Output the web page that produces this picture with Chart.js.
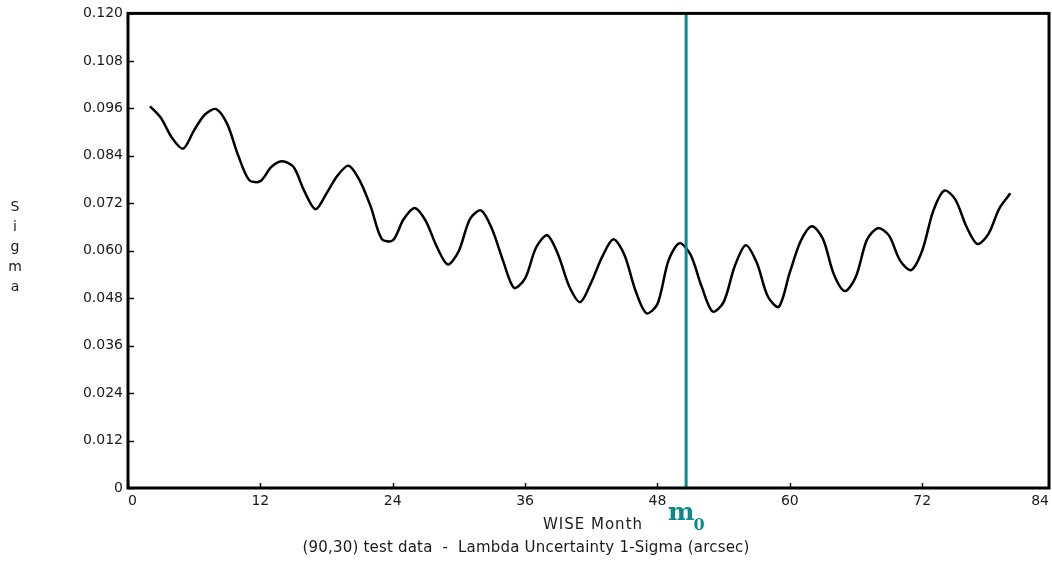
<!DOCTYPE html>
<html>
<head>
<meta charset="utf-8">
<script src="https://cdn.jsdelivr.net/npm/chart.js@4.4.1/dist/chart.umd.min.js"></script>
<style>
  html, body { margin: 0; padding: 0; background: #fff; overflow: hidden; }
  canvas { display: block; }
</style>
</head>
<body>
<canvas id="sigmaChart" width="1052" height="569"></canvas>
<script>
// WISE month vs lambda 1-sigma
const months = [2, 3, 4, 5, 6, 7, 8, 9, 10, 11, 12, 13, 14, 15, 16, 17, 18, 19, 20,
  21, 22, 23, 24, 25, 26, 27, 28, 29, 30, 31, 32, 33, 34, 35, 36, 37, 38, 39, 40,
  41, 42, 43, 44, 45, 46, 47, 48, 49, 50, 51, 52, 53, 54, 55, 56, 57, 58, 59, 60,
  61, 62, 63, 64, 65, 66, 67, 68, 69, 70, 71, 72, 73, 74, 75, 76, 77, 78, 79, 80];
const sigma = [0.0965, 0.0935, 0.0885, 0.0858, 0.0905, 0.0945, 0.0958, 0.0920, 0.0840,
  0.0778, 0.0776, 0.0812, 0.0826, 0.0812, 0.0750, 0.0705, 0.0745, 0.0790, 0.0815,
  0.0778, 0.0712, 0.0630, 0.0626, 0.0680, 0.0708, 0.0675, 0.0610, 0.0565, 0.0600,
  0.0680, 0.0702, 0.0655, 0.0575, 0.0506, 0.0530, 0.0608, 0.0639, 0.0590, 0.0510,
  0.0470, 0.0520, 0.0585, 0.0629, 0.0590, 0.0500, 0.0442, 0.0465, 0.0575, 0.0619,
  0.0590, 0.0510, 0.0446, 0.0470, 0.0560, 0.0614, 0.0570, 0.0485, 0.0458, 0.0545,
  0.0625, 0.0662, 0.0630, 0.0540, 0.0498, 0.0535, 0.0628, 0.0657, 0.0638, 0.0575,
  0.0551, 0.0600, 0.0700, 0.0752, 0.0730, 0.0662, 0.0617, 0.0642, 0.0707, 0.0745];

const xTicks = [0, 12, 24, 36, 48, 60, 72, 84];
const yTicks = [0, 0.012, 0.024, 0.036, 0.048, 0.060, 0.072, 0.084, 0.096, 0.108, 0.120];
const xMax = 83.5;   // plot edge sits a little short of 84
const m0 = 50.6;     // reference month marker

const TEAL = '#0a8a8a';
const FONT = 'DejaVu Sans';

const frame = {
  id: 'frame',
  afterDraw(chart) {
    const c = chart.ctx;
    const a = chart.chartArea;
    const xs = chart.scales.x, ys = chart.scales.y;
    c.save();
    // tick marks pointing inward
    c.strokeStyle = '#000';
    c.lineWidth = 1.5;
    c.beginPath();
    yTicks.forEach(v => {
      const py = Math.round(ys.getPixelForValue(v)) + 0.5;
      c.moveTo(a.left, py); c.lineTo(a.left + 6, py);
    });
    xTicks.forEach(v => {
      if (v > xMax) return;
      const px = Math.round(xs.getPixelForValue(v)) + 0.5;
      c.moveTo(px, a.bottom); c.lineTo(px, a.bottom - 5);
    });
    c.stroke();
    // box
    c.lineWidth = 3;
    c.strokeRect(a.left, a.top, a.right - a.left, a.bottom - a.top);

    // axis titles
    c.fillStyle = '#1a1a1a';
    c.font = '14px "' + FONT + '"';
    c.textAlign = 'center';
    c.textBaseline = 'middle';
    'Sigma'.split('').forEach((ch, i) => c.fillText(ch, 15, 207 + i * 20));
    c.letterSpacing = '1px';
    c.font = '15px "' + FONT + '"';
    c.fillText('WISE Month', 593, 525);
    c.letterSpacing = '0.2px';
    c.fillText('(90,30) test data  -  Lambda Uncertainty 1-Sigma (arcsec)', 526, 548);
    c.letterSpacing = '0px';

    // m0 label
    const mx = xs.getPixelForValue(m0);
    c.fillStyle = TEAL;
    c.textAlign = 'left';
    c.textBaseline = 'alphabetic';
    c.font = 'bold 25px "DejaVu Serif"';
    c.fillText('m', mx - 18, 520);
    const mw = c.measureText('m').width;
    c.font = 'bold 16px "DejaVu Serif"';
    c.fillText('0', mx - 19 + mw, 530);
    c.restore();
  }
};

new Chart(document.getElementById('sigmaChart'), {
  type: 'line',
  plugins: [frame],
  data: {
    datasets: [{
      label: 'm0',
      data: [{ x: m0, y: yTicks[0] }, { x: m0, y: yTicks[yTicks.length - 1] }],
      borderColor: TEAL,
      borderWidth: 3,
      pointRadius: 0,
      tension: 0,
      order: 0
    }, {
      label: 'Sigma',
      data: months.map((m, i) => ({ x: m, y: sigma[i] })),
      borderColor: '#000',
      borderWidth: 2.5,
      pointRadius: 0,
      tension: 0.3,
      fill: false,
      order: 1
    }]
  },
  options: {
    responsive: false,
    animation: false,
    layout: { padding: { left: 0, top: 11, right: 3, bottom: 0 } },
    plugins: { legend: { display: false }, tooltip: { enabled: false } },
    scales: {
      x: {
        type: 'linear',
        min: 0,
        max: xMax,
        afterBuildTicks: s => { s.ticks = xTicks.map(v => ({ value: Math.min(v, xMax) })); },
        afterFit: s => { s.height = 81; s.paddingLeft = 0; s.paddingRight = 0; },
        grid: { display: false, drawTicks: false },
        border: { display: false },
        ticks: {
          align: 'inner',
          padding: 5,
          color: '#1a1a1a',
          font: { family: FONT, size: 14 },
          maxRotation: 0,
          autoSkip: false,
          callback: (v, i) => String(xTicks[i])
        }
      },
      y: {
        type: 'linear',
        min: 0,
        max: 0.12,
        afterBuildTicks: s => { s.ticks = yTicks.map(v => ({ value: v })); },
        afterFit: s => { s.width = 128; },
        grid: { display: false, drawTicks: false },
        border: { display: false },
        ticks: {
          padding: 5,
          color: '#1a1a1a',
          font: { family: FONT, size: 14 },
          autoSkip: false,
          callback: (v, i) => (yTicks[i] === 0 ? '0' : yTicks[i].toFixed(3))
        }
      }
    }
  }
});
</script>
</body>
</html>
